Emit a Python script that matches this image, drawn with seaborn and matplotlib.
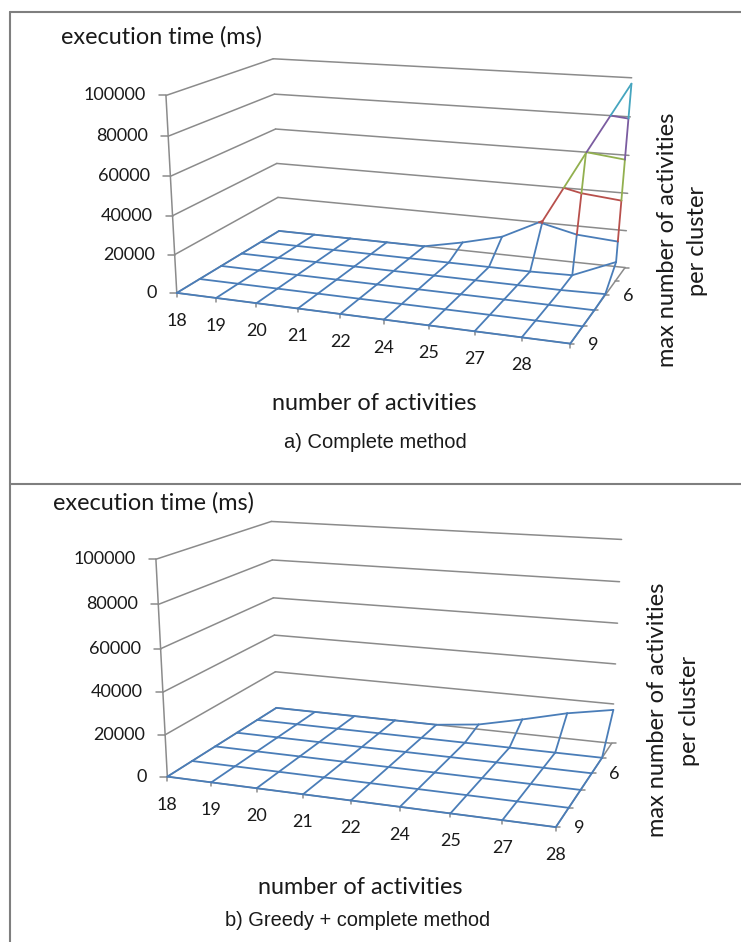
import numpy as np
import pandas as pd
import matplotlib
matplotlib.use('Agg')
import matplotlib.pyplot as plt
import seaborn as sns

# numero de actividades (el panel a tiene una categoria mas, sin etiqueta)
activities_a = ['18', '19', '20', '21', '22', '24', '25', '27', '28', '']
activities_b = ['18', '19', '20', '21', '22', '24', '25', '27', '28']
max_per_cluster = ['9', '8', '7', '6', '5', '4']
z_ticks = [0, 20000, 40000, 60000, 80000, 100000]

# a) tiempos del metodo completo, una lista por cada max de actividades
complete_9 = [0, 0, 0, 0, 0, 0, 0, 0, 0, 0]
complete_8 = [0, 0, 0, 0, 0, 0, 0, 0, 0, 0]
complete_7 = [0, 0, 0, 0, 0, 0, 0, 0, 0, 0]
complete_6 = [0, 0, 0, 0, 0, 0, 0, 0, 0, 500]
complete_5 = [0, 0, 0, 0, 0, 0, 0, 0, 500, 10000]
complete_4 = [0, 0, 0, 0, 0, 4500, 10000, 21000, 59500, 97000]

# b) tiempos del metodo greedy + completo
greedy_9 = [0, 0, 0, 0, 0, 0, 0, 0, 0]
greedy_8 = [0, 0, 0, 0, 0, 0, 0, 0, 0]
greedy_7 = [0, 0, 0, 0, 0, 0, 0, 0, 0]
greedy_6 = [0, 0, 0, 0, 0, 0, 0, 0, 0]
greedy_5 = [0, 0, 0, 0, 0, 0, 0, 0, 0]
greedy_4 = [0, 0, 0, 0, 0, 2500, 7500, 13000, 17000]

times_a = np.array([complete_9, complete_8, complete_7, complete_6, complete_5, complete_4], float)
times_b = np.array([greedy_9, greedy_8, greedy_7, greedy_6, greedy_5, greedy_4], float)

# colores de Excel por banda de 20000
band_colors = ['#4a7db8', '#b8504c', '#92b04f', '#7b5ca0', '#45a5bf']
grey = '#8b8b8b'
z_max = 100000

sns.set_theme(style='white')
plt.rcParams['font.family'] = ['Lato', 'DejaVu Sans']


def fit_camera(n_x, n_y, front_l, front_r, back_r, back_l, top_front_l, top_back_r, top_back_l):
    # camara proyectiva 3x4 ajustada a las esquinas de la caja en pixeles
    world = [(0, 0, 0), (n_x, 0, 0), (n_x, n_y, 0), (0, n_y, 0),
             (0, 0, 1), (n_x, n_y, 1), (0, n_y, 1)]
    image = [front_l, front_r, back_r, back_l, top_front_l, top_back_r, top_back_l]
    rows = []
    for (x, y, z), (u, v) in zip(world, image):
        rows.append([x, y, z, 1, 0, 0, 0, 0, -u * x, -u * y, -u * z, -u])
        rows.append([0, 0, 0, 0, x, y, z, 1, -v * x, -v * y, -v * z, -v])
    return np.linalg.svd(np.array(rows, float))[2][-1].reshape(3, 4)


def project(cam, x, y, value):
    p = cam @ np.array([x, y, value / z_max, 1.0])
    return p[0] / p[2], p[1] / p[2]


def split_segment(a, b):
    # parte un tramo (x, y, valor) en las bandas de color
    za, zb = a[2], b[2]
    cuts = [t for t in z_ticks if min(za, zb) < t < max(za, zb)]
    ts = [0.0] + sorted((t - za) / (zb - za) for t in cuts) + [1.0]
    pieces = []
    for t0, t1 in zip(ts[:-1], ts[1:]):
        p0 = [a[k] + (b[k] - a[k]) * t0 for k in range(3)]
        p1 = [a[k] + (b[k] - a[k]) * t1 for k in range(3)]
        band = min(int(max(p0[2], p1[2]) - 1e-6) // 20000, 4)
        pieces.append((p0, p1, band))
    return pieces


def draw_lines(ax, cam, segments, color, lw):
    rows = []
    for n, (p0, p1) in enumerate(segments):
        for p in (p0, p1):
            px, py = project(cam, *p)
            rows.append({'px': px, 'py': py, 'line': n})
    sns.lineplot(data=pd.DataFrame(rows), x='px', y='py', units='line', estimator=None,
                 sort=False, color=color, lw=lw, legend=False, ax=ax, zorder=3)


def draw_surface(ax, cam, times):
    n_rows, n_cols = times.shape
    by_band = {k: [] for k in range(5)}
    point = lambda j, i: (i, j, times[j, i])
    for j in range(n_rows):
        for i in range(n_cols):
            if i + 1 < n_cols:
                for p0, p1, band in split_segment(point(j, i), point(j, i + 1)):
                    by_band[band].append((p0, p1))
            if j + 1 < n_rows:
                for p0, p1, band in split_segment(point(j, i), point(j + 1, i)):
                    by_band[band].append((p0, p1))
    # curvas de nivel que Excel dibuja en cada celda
    for j in range(n_rows - 1):
        for i in range(n_cols - 1):
            ring = [point(j, i), point(j, i + 1), point(j + 1, i + 1), point(j + 1, i), point(j, i)]
            for band, level in enumerate(z_ticks[1:-1]):
                hits = []
                for a, b in zip(ring[:-1], ring[1:]):
                    if min(a[2], b[2]) < level < max(a[2], b[2]):
                        t = (level - a[2]) / (b[2] - a[2])
                        hits.append((a[0] + (b[0] - a[0]) * t, a[1] + (b[1] - a[1]) * t, level))
                if len(hits) == 2:
                    by_band[band].append((hits[0], hits[1]))
    for band, segments in by_band.items():
        if segments:
            draw_lines(ax, cam, segments, band_colors[band], 1.3)


def draw_panel(ax, cam, times, x_labels, x_end):
    n_rows, n_cols = times.shape
    back = n_rows - 1
    grid = []
    for v in z_ticks:
        grid.append(((0, 0, v), (0, back, v)))
        grid.append(((0, back, v), (x_end, back, v)))
    grid.append(((0, 0, 0), (0, 0, z_max)))
    grid.append(((0, 0, 0), (x_end, 0, 0)))
    grid.append(((x_end, 0, 0), (x_end, back, 0)))
    draw_lines(ax, cam, grid, grey, 1.1)
    draw_surface(ax, cam, times)

    # marcas y etiquetas de los tres ejes
    for v in z_ticks:
        px, py = project(cam, 0, 0, v)
        ax.plot([px - 7, px], [py, py], color=grey, lw=1.1)
        ax.text(px - 20, py, f'{v}', ha='right', va='center', fontsize=13, color='#1a1a1a')
    for i in range(x_end + 1):
        px, py = project(cam, i, 0, 0)
        ax.plot([px, px], [py, py + 4], color=grey, lw=1.1)
        if i < len(x_labels):
            ax.text(px, py + 28, x_labels[i], ha='center', va='center', fontsize=13, color='#1a1a1a')
    for j in range(n_rows):
        px, py = project(cam, x_end, j, 0)
        ax.plot([px, px + 4], [py, py], color=grey, lw=1.1)
        if j % 3 == 0:
            ax.text(px + 23, py + 1, max_per_cluster[j], ha='center', va='center', fontsize=13, color='#1a1a1a')


fig = plt.figure(figsize=(7.41, 9.42), dpi=100, facecolor='white')
ax = fig.add_axes([0, 0, 1, 1])

cam_a = fit_camera(9, 5, (176, 293), (570, 344), (625, 267), (280, 231), (167, 95), (632, 78), (272, 59))
cam_b = fit_camera(8, 5, (167, 777), (555, 828), (612, 742), (277, 708), (157, 558), (622, 540), (270, 522))

draw_panel(ax, cam_a, times_a, activities_a, 9)
draw_panel(ax, cam_b, times_b, activities_b, 8)

# marco gris de la figura
frame = '#7f7f7f'
ax.plot([10, 741], [12, 12], color=frame, lw=1.5)
ax.plot([10, 10], [12, 942], color=frame, lw=1.5)
ax.plot([10, 741], [484, 484], color=frame, lw=1.5)

text_color = '#1a1a1a'
ax.text(161, 37, 'execution time (ms)', ha='center', va='center', fontsize=16.9, color=text_color)
ax.text(153, 503, 'execution time (ms)', ha='center', va='center', fontsize=16.9, color=text_color)
ax.text(374, 404, 'number of activities', ha='center', va='center', fontsize=16.9, color=text_color)
ax.text(360, 888, 'number of activities', ha='center', va='center', fontsize=16.9, color=text_color)
ax.text(375, 442, 'a) Complete method', ha='center', va='center', fontsize=14.5,
        family='Liberation Sans', color=text_color)
ax.text(358, 920, 'b) Greedy + complete method', ha='center', va='center', fontsize=14.4,
        family='Liberation Sans', color=text_color)
ax.text(667, 240, 'max number of activities', rotation=90, ha='center', va='center', fontsize=17, color=text_color)
ax.text(698, 241, 'per cluster', rotation=90, ha='center', va='center', fontsize=17, color=text_color)
ax.text(657, 710, 'max number of activities', rotation=90, ha='center', va='center', fontsize=17, color=text_color)
ax.text(689, 711, 'per cluster', rotation=90, ha='center', va='center', fontsize=17, color=text_color)

ax.set_xlim(0, 741)
ax.set_ylim(942, 0)
ax.axis('off')
fig.savefig('out.png', dpi=100, facecolor='white')
